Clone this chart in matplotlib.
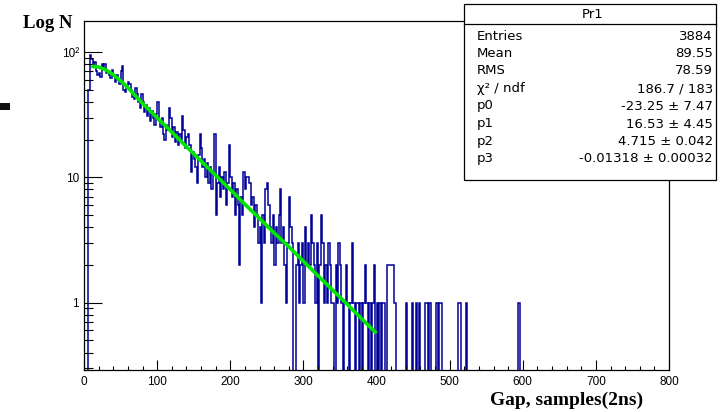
import numpy as np
import matplotlib
matplotlib.use("Agg")
import matplotlib.pyplot as plt
from matplotlib.patches import Rectangle
from matplotlib.lines import Line2D
from matplotlib.ticker import MultipleLocator, LogLocator, NullFormatter, FixedLocator

# histogram "Pr1": gap between pulses, bins of 2 samples starting at 0
bin_width = 2
counts = [
    0, 0, 0, 50, 94, 88, 76, 84, 70, 66,      # 0-18
    68, 63, 80, 74, 80, 68, 70, 66, 62, 72,   # 20-38
    64, 58, 66, 60, 56, 70, 77, 50, 48, 54,   # 40-58
    58, 56, 50, 44, 42, 52, 46, 40, 36, 46,   # 60-78
    40, 33, 38, 31, 36, 28, 34, 30, 26, 32,   # 80-98
    40, 28, 25, 30, 22, 20, 26, 24, 36, 30,   # 100-118
    21, 25, 19, 23, 18, 22, 20, 31, 24, 17,   # 120-138
    21, 22, 18, 11, 16, 14, 12, 9, 15, 22,    # 140-158
    17, 12, 14, 10, 13, 9, 12, 8, 11, 22,     # 160-178
    5, 9, 12, 7, 10, 8, 11, 6, 9, 18,         # 180-198
    10, 7, 9, 5, 8, 6, 2, 7, 5, 11,           # 200-218
    8, 10, 10, 9, 6, 7, 4, 6, 5, 3,           # 220-238
    4, 1, 5, 3, 8, 9, 6, 4, 3, 5,             # 240-258
    2, 4, 3, 5, 8, 3, 4, 2, 1, 3,             # 260-278
    7, 4, 3, 0, 0, 2, 3, 1, 2, 3,             # 280-298
    1, 4, 2, 3, 2, 5, 3, 2, 1, 3,             # 300-318
    0, 2, 5, 3, 1, 2, 1, 3, 2, 1,             # 320-338
    1, 0, 2, 1, 3, 2, 1, 0, 1, 2,             # 340-358
    1, 0, 1, 3, 1, 0, 1, 1, 0, 1,             # 360-378
    0, 1, 2, 1, 0, 1, 0, 1, 2, 0,             # 380-398
    1, 0, 1, 0, 1, 1, 0, 2, 2, 2,             # 400-418
    2, 2, 1, 0, 0, 0, 0, 0, 0, 0,             # 420-438
    1, 0, 0, 0, 1, 0, 0, 1, 0, 1,             # 440-458
    0, 0, 0, 1, 1, 0, 1, 0, 0, 0,             # 460-478
    0, 1, 0, 1, 1, 0, 0, 0, 0, 0,             # 480-498
    0, 0, 0, 0, 0, 0, 1, 1, 0, 0,             # 500-518
    0, 1, 0, 0, 0, 0, 0, 0, 0, 0,             # 520-538
    0, 0, 0, 0, 0, 0, 0, 0, 0, 0,             # 540-558
    0, 0, 0, 0, 0, 0, 0, 0, 0, 0,             # 560-578
    0, 0, 0, 0, 0, 0, 0, 1, 0, 0,             # 580-598
]

# fitted curve
fit_x = [10, 20, 30, 40, 50, 60, 80, 100, 120, 140, 160, 180, 200,
         220, 240, 260, 280, 300, 320, 340, 360, 380, 400]
fit_y = [77, 76, 72, 66, 59, 52, 39, 29.9, 23.0, 17.6, 13.5, 10.4, 8.0,
         6.1, 4.7, 3.6, 2.8, 2.14, 1.64, 1.26, 0.97, 0.74, 0.57]

stats_labels = ["Entries", "Mean", "RMS", "\u03c7\u00b2 / ndf", "p0", "p1", "p2", "p3"]
stats_values = ["3884", "89.55", "78.59", "186.7 / 183", "-23.25 \u00b1 7.47",
                "16.53 \u00b1 4.45", "4.715 \u00b1 0.042", "-0.01318 \u00b1 0.00032"]

W, H = 720, 412
fig = plt.figure(figsize=(W / 100, H / 100), dpi=100)
ax = fig.add_axes([84 / W, 1 - 370 / H, 585 / W, 349 / H])

edges = np.arange(len(counts) + 1) * bin_width
ax.stairs(counts, edges, color="#000099", lw=1.1)
ax.plot(fit_x, fit_y, color="#00e600", lw=2.6, solid_capstyle="butt")

ax.set_yscale("log")
ax.set_xlim(0, 800)
ax.set_ylim(0.29, 177)

sans = "Liberation Sans"
ax.xaxis.set_major_locator(MultipleLocator(100))
ax.xaxis.set_minor_locator(MultipleLocator(20))
ax.yaxis.set_major_locator(FixedLocator([1, 10, 100]))
ax.set_yticklabels(["1", "10", "10\u00b2"])
ax.yaxis.set_minor_locator(LogLocator(base=10, subs=np.arange(2, 10)))
ax.yaxis.set_minor_formatter(NullFormatter())

ax.tick_params(axis="x", which="major", direction="in", length=7.2, width=0.8, pad=4.0,
               labelsize=8.5, top=False)
ax.tick_params(axis="x", which="minor", direction="in", length=3.0, width=0.8, top=False)
ax.tick_params(axis="y", which="major", direction="in", length=13, width=0.8, pad=3.6,
               labelsize=8.5, right=False)
ax.tick_params(axis="y", which="minor", direction="in", length=6.5, width=0.8, right=False)
for lab in ax.get_xticklabels() + ax.get_yticklabels():
    lab.set_family(sans)
for sp in ax.spines.values():
    sp.set_linewidth(0.9)

fig.text(23 / W, 1 - 28 / H, "Log N", family="Liberation Serif", fontweight="bold",
         fontsize=13.5, va="baseline", ha="left")
fig.text(643 / W, 1 - 405 / H, "Gap, samples(2ns)", family="Liberation Serif",
         fontweight="bold", fontsize=14, va="baseline", ha="right")

# stats box
bx0, by0, bx1, by1 = 464, 4, 716, 180
fig.add_artist(Rectangle((bx0 / W, 1 - by1 / H), (bx1 - bx0) / W, (by1 - by0) / H,
                         transform=fig.transFigure, facecolor="white", edgecolor="black",
                         lw=0.9, zorder=10))
fig.add_artist(Line2D([bx0 / W, bx1 / W], [1 - 24 / H, 1 - 24 / H],
                      transform=fig.transFigure, color="black", lw=0.9, zorder=11))
fig.text(593 / W, 1 - 14.5 / H, "Pr1", family="DejaVu Sans", fontsize=9.5,
         ha="center", va="center", zorder=12)
row_y = [36, 53.5, 71, 88.5, 106, 124, 141.5, 159]
for lab, val, yy in zip(stats_labels, stats_values, row_y):
    fig.text(477 / W, 1 - yy / H, lab, family="DejaVu Sans", fontsize=9.5,
             ha="left", va="center", zorder=12)
    fig.text(713 / W, 1 - yy / H, val, family="DejaVu Sans", fontsize=9.5,
             ha="right", va="center", zorder=12)

# small dark mark on the left edge of the original page
fig.add_artist(Rectangle((0, 1 - 110 / H), 10 / W, 7 / H, transform=fig.transFigure,
                         facecolor="#111111", edgecolor="none"))

fig.savefig("out.png", dpi=100)
